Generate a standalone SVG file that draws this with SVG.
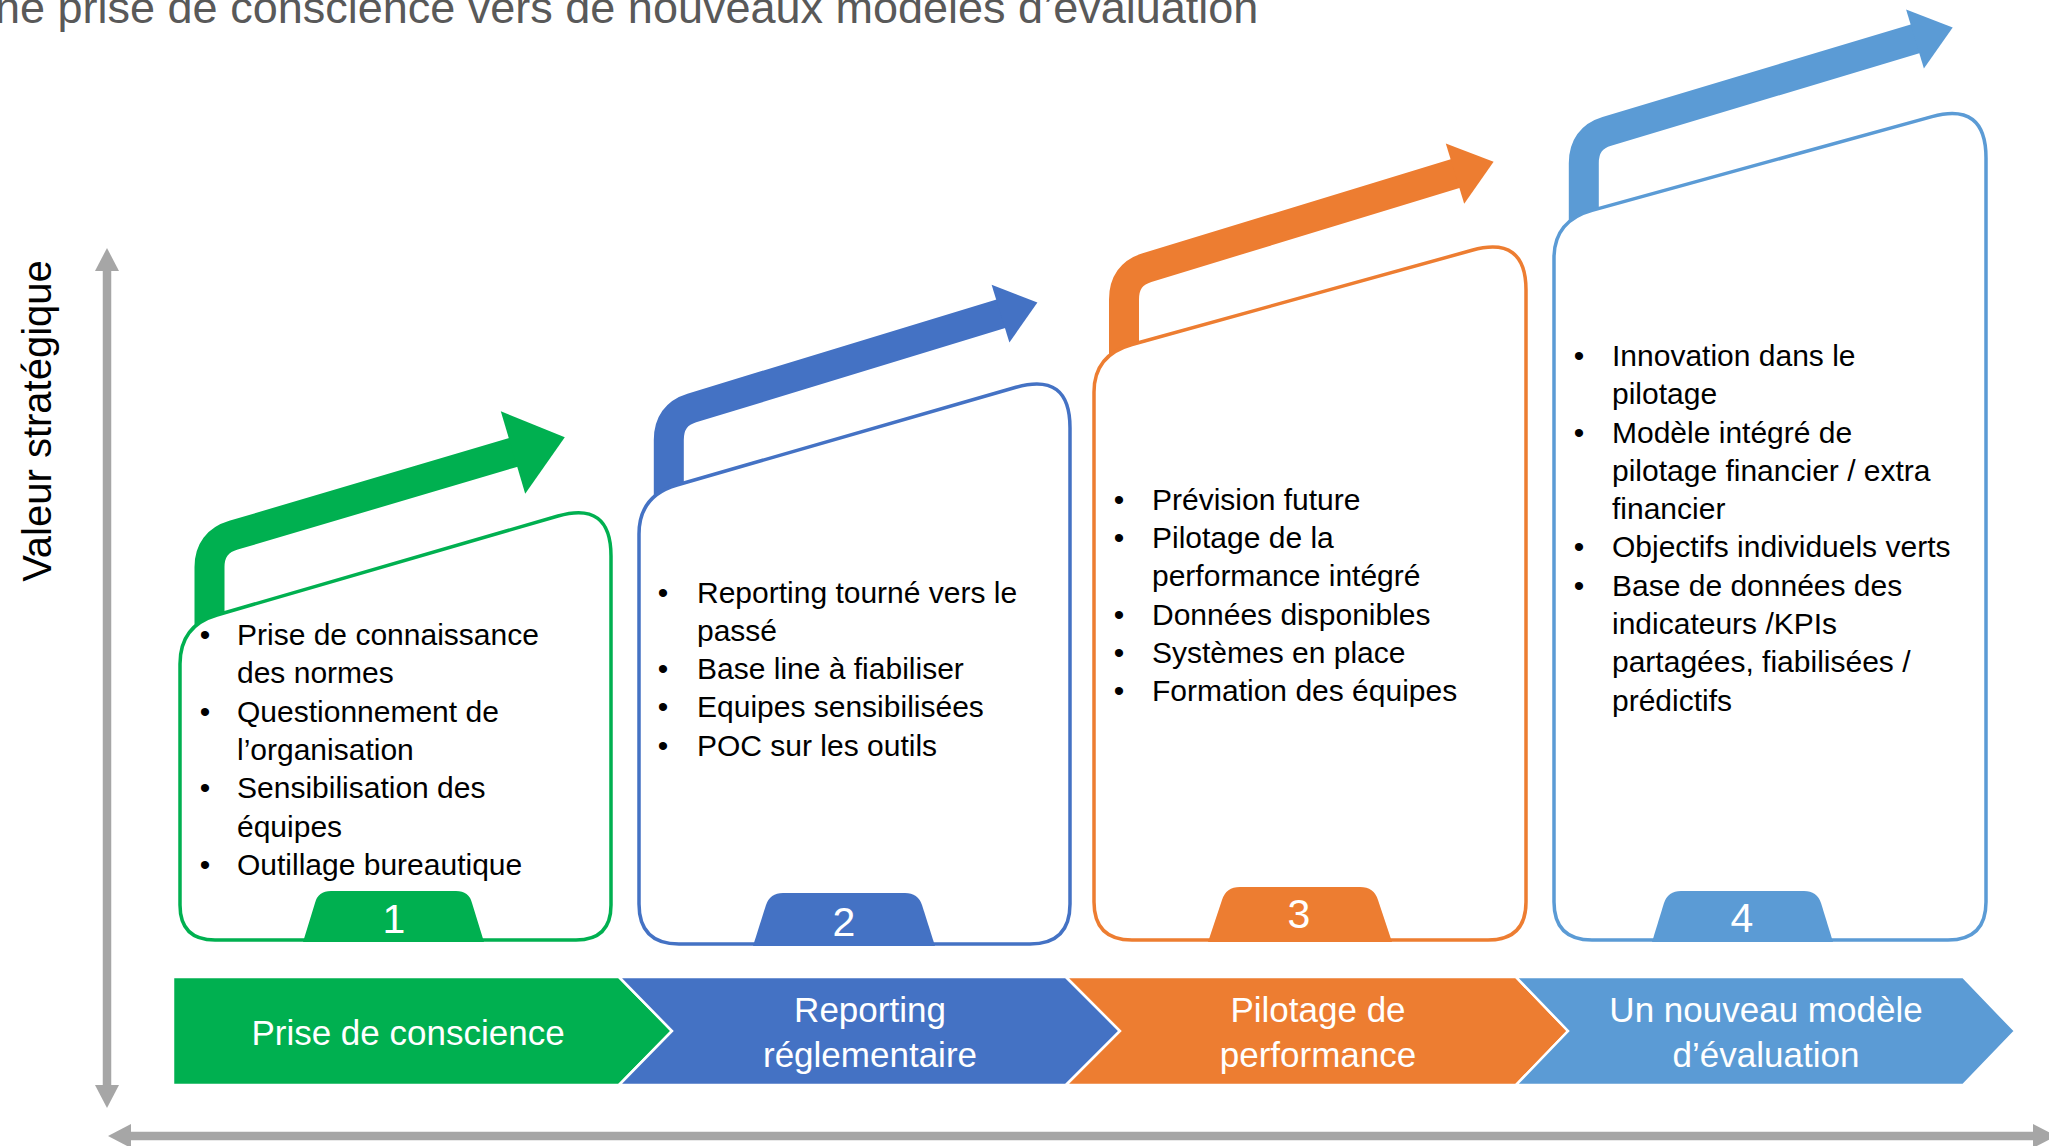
<svg xmlns="http://www.w3.org/2000/svg" width="2049" height="1146" viewBox="0 0 2049 1146">
<style>
.t{font-family:"Liberation Sans",Arial,sans-serif}
.title{font-size:45px;fill:#595959}
.lab{font-size:40px;fill:#000}
.b{font-size:30px;fill:#000}
.num{font-size:41px;fill:#fff;text-anchor:middle}
.chv{font-size:35px;fill:#fff;text-anchor:middle}
.card{fill:#fff;stroke-width:3.5}
.shaft{fill:none;stroke-width:30}
.axis{stroke:#A6A6A6;stroke-width:8.5;fill:none}
.ah{fill:#A6A6A6}
.chev{stroke:#fff;stroke-width:2.5}
</style>
<rect width="2049" height="1146" fill="#fff"/>
<text id="title" class="t title" x="-5" y="23">ne prise de conscience vers de nouveaux modèles d’évaluation</text>
<text id="ylabel" class="t lab" transform="translate(51,421) rotate(-90)" text-anchor="middle">Valeur stratégique</text>
<g id="connectors">
  <line class="axis" x1="107" y1="268" x2="107" y2="1088"/>
  <polygon class="ah" points="95,271 107,248 119,271"/>
  <polygon class="ah" points="95,1085 107,1108 119,1085"/>
  <line class="axis" x1="128" y1="1136" x2="2040" y2="1136"/>
  <polygon class="ah" points="131,1124 108,1136 131,1148"/>
  <polygon class="ah" points="2033,1124 2056,1136 2033,1148"/>
  <path class="shaft" stroke="#00B050" d="M209.5,650 L209.5,567 Q209.5,542.3 233.5,535.2 L518,451"/>
  <polygon fill="#00B050" points="500.8,411.3 564.8,437.2 525.2,493.7"/>
  <path class="shaft" stroke="#4472C4" d="M668.8,515 L668.8,440 Q668.8,415 691.8,408 L1005,312.5"/>
  <polygon fill="#4472C4" points="991.6,284.7 1037.4,302.5 1009.4,342.5"/>
  <path class="shaft" stroke="#ED7D31" d="M1124,375 L1124,299.6 Q1124,274.6 1147,267.6 L1460,172.2"/>
  <polygon fill="#ED7D31" points="1445.8,143.5 1493.6,161.8 1464.2,203.7"/>
  <path class="shaft" stroke="#5B9BD5" d="M1583.8,240 L1583.8,163.3 Q1583.8,138.3 1606.8,131.4 L1920,37.4"/>
  <polygon fill="#5B9BD5" points="1906.1,9.4 1952.7,27.6 1923.9,68.4"/>
</g>
<g id="card1">
  <path class="card" stroke="#00B050" d="M180,664 Q180,625.6 217,615 L558,516 Q611,500.6 611,556 L611,905 Q611,940 576,940 L215,940 Q180,940 180,905 Z"/>
  <path fill="#00B050" d="M303,942 L315,903 Q318,891 331,891 L456,891 Q469,891 472,903 L484,942 Z"/>
  <text class="t num" x="394" y="933">1</text>
  <text class="t b" text-anchor="middle"><tspan x="205" y="645">•</tspan><tspan x="205" y="721.6">•</tspan><tspan x="205" y="798.2">•</tspan><tspan x="205" y="874.8">•</tspan></text>
  <text class="t b"><tspan x="237" y="645">Prise de connaissance</tspan><tspan x="237" y="683.3">des normes</tspan><tspan x="237" y="721.6">Questionnement de</tspan><tspan x="237" y="759.9">l’organisation</tspan><tspan x="237" y="798.2">Sensibilisation des</tspan><tspan x="237" y="836.5">équipes</tspan><tspan x="237" y="874.8">Outillage bureautique</tspan></text>
</g>
<g id="card2">
  <path class="card" stroke="#4472C4" d="M639,534 Q639,495.8 677,485 L1016,387.3 Q1070,371.7 1070,428 L1070,904 Q1070,944 1030,944 L679,944 Q639,944 639,904 Z"/>
  <path fill="#4472C4" d="M753,946 L766,905 Q770,893 783,893 L905,893 Q918,893 922,905 L935,946 Z"/>
  <text class="t num" x="844" y="936">2</text>
  <text class="t b" text-anchor="middle"><tspan x="663" y="602.5">•</tspan><tspan x="663" y="679.1">•</tspan><tspan x="663" y="717.4">•</tspan><tspan x="663" y="755.7">•</tspan></text>
  <text class="t b"><tspan x="697" y="602.5">Reporting tourné vers le</tspan><tspan x="697" y="640.8">passé</tspan><tspan x="697" y="679.1">Base line à fiabiliser</tspan><tspan x="697" y="717.4">Equipes sensibilisées</tspan><tspan x="697" y="755.7">POC sur les outils</tspan></text>
</g>
<g id="card3">
  <path class="card" stroke="#ED7D31" d="M1094,392 Q1094,355 1132,344.5 L1472,250.3 Q1526,235.3 1526,290 L1526,902 Q1526,940 1488,940 L1132,940 Q1094,940 1094,902 Z"/>
  <path fill="#ED7D31" d="M1208,942 L1222,900 Q1226,887 1240,887 L1360,887 Q1374,887 1378,900 L1392,942 Z"/>
  <text class="t num" x="1299" y="928">3</text>
  <text class="t b" text-anchor="middle"><tspan x="1119" y="509.6">•</tspan><tspan x="1119" y="547.9">•</tspan><tspan x="1119" y="624.5">•</tspan><tspan x="1119" y="662.8">•</tspan><tspan x="1119" y="701.1">•</tspan></text>
  <text class="t b"><tspan x="1152" y="509.6">Prévision future</tspan><tspan x="1152" y="547.9">Pilotage de la</tspan><tspan x="1152" y="586.2">performance intégré</tspan><tspan x="1152" y="624.5">Données disponibles</tspan><tspan x="1152" y="662.8">Systèmes en place</tspan><tspan x="1152" y="701.1">Formation des équipes</tspan></text>
</g>
<g id="card4">
  <path class="card" stroke="#5B9BD5" d="M1554,258 Q1554,220.9 1592,210.4 L1932,116.6 Q1986,101.7 1986,158 L1986,902 Q1986,940 1948,940 L1592,940 Q1554,940 1554,902 Z"/>
  <path fill="#5B9BD5" d="M1652,942 L1664,903 Q1668,891 1681,891 L1804,891 Q1817,891 1821,903 L1833,942 Z"/>
  <text class="t num" x="1742" y="932">4</text>
  <text class="t b" text-anchor="middle"><tspan x="1579" y="365.9">•</tspan><tspan x="1579" y="442.5">•</tspan><tspan x="1579" y="557.4">•</tspan><tspan x="1579" y="595.7">•</tspan></text>
  <text class="t b"><tspan x="1612" y="365.9">Innovation dans le</tspan><tspan x="1612" y="404.2">pilotage</tspan><tspan x="1612" y="442.5">Modèle intégré de</tspan><tspan x="1612" y="480.8">pilotage financier / extra</tspan><tspan x="1612" y="519.1">financier</tspan><tspan x="1612" y="557.4">Objectifs individuels verts</tspan><tspan x="1612" y="595.7">Base de données des</tspan><tspan x="1612" y="634">indicateurs /KPIs</tspan><tspan x="1612" y="672.3">partagées, fiabilisées /</tspan><tspan x="1612" y="710.6">prédictifs</tspan></text>
</g>
<g id="phase1">
  <path class="chev" fill="#00B050" d="M173,977 L619,977 L672,1031 L619,1085 L173,1085 Z"/>
  <text class="t chv" x="408" y="1045">Prise de conscience</text>
</g>
<g id="phase2">
  <path class="chev" fill="#4472C4" d="M619,977 L1066,977 L1120,1031 L1066,1085 L619,1085 L672,1031 Z"/>
  <text class="t chv"><tspan x="870" y="1022">Reporting</tspan><tspan x="870" y="1067">réglementaire</tspan></text>
</g>
<g id="phase3">
  <path class="chev" fill="#ED7D31" d="M1066,977 L1516,977 L1568,1031 L1516,1085 L1066,1085 L1120,1031 Z"/>
  <text class="t chv"><tspan x="1318" y="1022">Pilotage de</tspan><tspan x="1318" y="1067">performance</tspan></text>
</g>
<g id="phase4">
  <path class="chev" fill="#5B9BD5" d="M1516,977 L1963,977 L2015,1031 L1963,1085 L1516,1085 L1568,1031 Z"/>
  <text class="t chv"><tspan x="1766" y="1022">Un nouveau modèle</tspan><tspan x="1766" y="1067">d’évaluation</tspan></text>
</g>
</svg>
